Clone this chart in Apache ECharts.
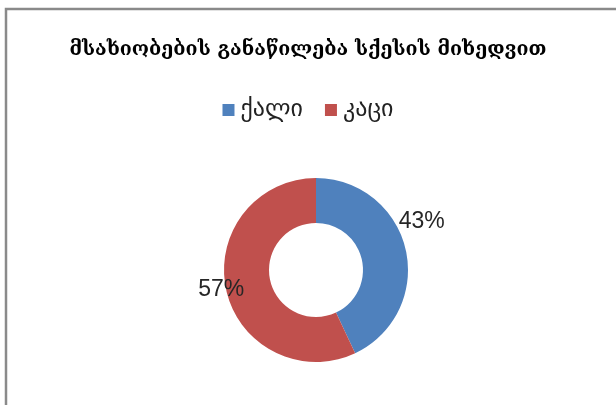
<!DOCTYPE html>
<html><head><meta charset="utf-8">
<script src="https://cdn.jsdelivr.net/npm/echarts@6/dist/echarts.min.js"></script>
<style>html,body{margin:0;padding:0;background:#fff}#c{width:616px;height:405px}</style>
</head><body><div id="c"></div>
<script>
const titleText = 'მსახიობების განაწილება სქესის მიხედვით';
const categories = ['ქალი', 'კაცი'];
const values = [43, 57];
const colors = ['#4F81BD', '#C0504D'];

const chart = echarts.init(document.getElementById('c'), null, {renderer: 'canvas'});
chart.setOption({
  animation: false,
  color: colors,
  title: {
    text: titleText, left: 'center', top: 35,
    textStyle: {fontFamily: 'DejaVu Serif', fontSize: 19.6, fontWeight: 'bold', color: '#000'}
  },
  legend: {
    data: categories, top: 93, left: 'center', itemWidth: 12, itemHeight: 12, itemGap: 22,
    icon: 'rect',
    textStyle: {fontFamily: 'DejaVu Sans', fontSize: 24, color: '#222', padding: [0, 0, 0, 1]}
  },
  graphic: [{
    type: 'rect', shape: {x: 6, y: 9, width: 800, height: 600},
    style: {fill: 'none', stroke: '#8a8a8a', lineWidth: 2.5}, silent: true
  }],
  series: [{
    type: 'pie', center: [316, 270], radius: [47, 92],
    startAngle: 90, clockwise: true,
    data: categories.map((n, i) => ({name: n, value: values[i]})),
    label: {
      show: true, position: 'outside', formatter: '{c}%',
      fontFamily: 'Liberation Sans', fontSize: 23, color: '#262626', distanceToLabelLine: 0
    },
    labelLine: {show: false, length: 0, length2: 0},
    labelLayout: function (p) {
      return p.dataIndex === 0 ? {dx: -7, dy: -28} : {dx: 18, dy: 0};
    },
    itemStyle: {borderWidth: 0}
  }]
});
</script></body></html>
